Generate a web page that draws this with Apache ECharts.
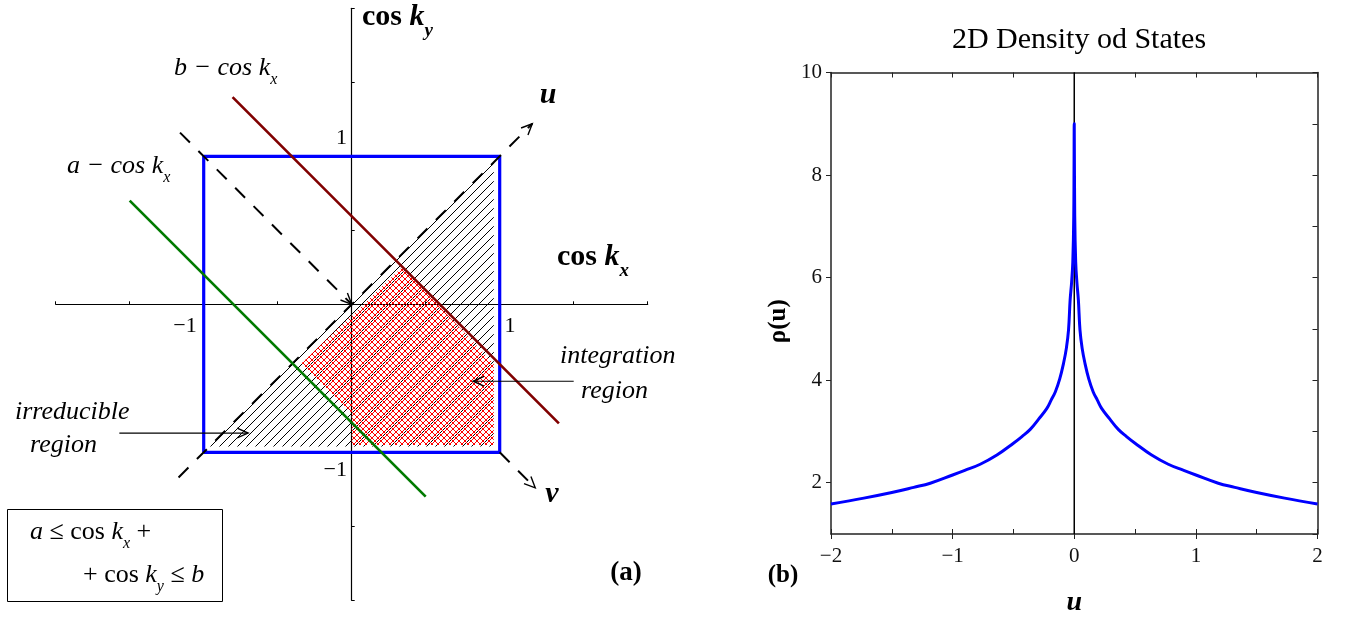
<!DOCTYPE html>
<html>
<head>
<meta charset="utf-8">
<title>2D Density of States</title>
<script src="https://cdn.jsdelivr.net/npm/echarts@6/dist/echarts.min.js"></script>
<style>
  html, body { margin: 0; padding: 0; background: #fff; }
  #main { width: 1352px; height: 617px; }
</style>
</head>
<body>
<div id="main"></div>
<script>
// panel (a): the (cos kx, cos ky) plane
var squarePts = [[-1, -1], [1, -1], [1, 1], [-1, 1], [-1, -1]];
var lineB = [[-0.805, 1.40], [1.40, -0.805]];   // b - cos kx
var lineA = [[-1.50, 0.70], [0.50, -1.30]];     // a - cos kx
var uAxisSeg = [[-1.17, -1.17, 1.22, 1.22]];
var vAxisSegs = [[-1.16, 1.16, 0, 0], [1, -1, 1.24, -1.24]];
var pointerSegs = [[1.50, -0.52, 0.82, -0.52], [-1.57, -0.87, -0.70, -0.87]];
var irreducible = [[-0.96, -0.96], [0.96, -0.96], [0.96, 0.96]];
var integration = [[-0.34, -0.40], [0.34, 0.25], [0.96, -0.40], [0.96, -0.95], [0, -0.95], [0, -0.735]];

// panel (b): density of states
var uVals = [-2.0, -1.73, -1.5, -1.32, -1.184, -1.0, -0.9, -0.773, -0.636, -0.5, -0.43, -0.362, -0.293,
  -0.225, -0.19, -0.156, -0.12, -0.088, -0.065, -0.047, -0.034, -0.022, -0.012, -0.004, 0,
  0.004, 0.012, 0.022, 0.034, 0.047, 0.065, 0.088, 0.12, 0.156, 0.19, 0.225, 0.293, 0.362, 0.43,
  0.5, 0.636, 0.773, 0.9, 1.0, 1.184, 1.32, 1.5, 1.73, 2.0];
var rhoVals = [1.585, 1.70, 1.81, 1.91, 1.99, 2.15, 2.24, 2.36, 2.54, 2.77, 2.90, 3.04, 3.24,
  3.45, 3.61, 3.77, 4.02, 4.33, 4.62, 4.98, 5.56, 5.9, 6.3, 7.2, 9.0,
  7.2, 6.3, 5.9, 5.56, 4.98, 4.62, 4.33, 4.02, 3.77, 3.61, 3.45, 3.24, 3.04, 2.90,
  2.77, 2.54, 2.36, 2.24, 2.15, 1.99, 1.91, 1.81, 1.70, 1.585];
var rhoTicks = [2, 4, 6, 8, 10];

var SERIF = "'Liberation Serif', 'Times New Roman', serif";

// crisp 1px diagonal hatch tiles
function hatchTile(size, color, both) {
  var c = document.createElement('canvas');
  c.width = size; c.height = size;
  var g = c.getContext('2d');
  g.fillStyle = color;
  for (var i = 0; i < size; i++) {
    g.fillRect(i, size - 1 - i, 1, 1);      // "/"
    if (both) g.fillRect(i, i, 1, 1);       // "\"
  }
  return c;
}
var blackHatch = { image: hatchTile(9, '#000', false), repeat: 'repeat' };
var redHatch = { image: hatchTile(6, '#ff0000', true), repeat: 'repeat' };

function polyRender(pts, fill) {
  return function (params, api) {
    return {
      type: 'polygon',
      shape: { points: pts.map(function (p) { return api.coord(p); }) },
      style: { fill: fill, stroke: null }
    };
  };
}

function arrowRender(dashed, width) {
  return function (params, api) {
    var p1 = api.coord([api.value(0), api.value(1)]);
    var p2 = api.coord([api.value(2), api.value(3)]);
    var ang = Math.atan2(p2[1] - p1[1], p2[0] - p1[0]);
    var L = 12, w = 0.42;
    var h1 = [p2[0] + L * Math.cos(ang + Math.PI - w), p2[1] + L * Math.sin(ang + Math.PI - w)];
    var h2 = [p2[0] + L * Math.cos(ang + Math.PI + w), p2[1] + L * Math.sin(ang + Math.PI + w)];
    return {
      type: 'group',
      children: [
        { type: 'line', shape: { x1: p1[0], y1: p1[1], x2: p2[0], y2: p2[1] },
          style: { stroke: '#000', lineWidth: width, lineDash: dashed ? [14, 12] : null } },
        { type: 'polyline', shape: { points: [h1, p2, h2] },
          style: { stroke: '#000', lineWidth: 1.4, fill: null } }
      ]
    };
  };
}

function st(size, italic, bold, drop) {
  var s = { fontFamily: SERIF, fontSize: size, fontStyle: italic ? 'italic' : 'normal',
    fontWeight: bold ? 'bold' : 'normal', fill: '#000', verticalAlign: 'middle' };
  if (drop) s.padding = [drop * 2, 0, 0, 0];
  return s;
}
function label(x, y, text, rich, align) {
  return { type: 'text', x: x, y: y, z: 50,
    style: { text: text, rich: rich, align: align || 'left', verticalAlign: 'middle' } };
}

var richItalic = { i: st(26, true, false), s: st(16, true, false, 12) };
var richBold = { b: st(30, false, true), bi: st(30, true, true), s: st(19, true, true, 14) };
var richBox = { r: st(26, false, false), i: st(26, true, false), s: st(16, true, false, 12) };
var richNum = { n: st(22, false, false) };

var chart = echarts.init(document.getElementById('main'));

var option = {
  animation: false,
  backgroundColor: '#fff',
  title: {
    text: '2D Density od States',
    left: 1074, top: 20, textAlign: 'center',
    textStyle: { fontFamily: SERIF, fontSize: 30, fontWeight: 'normal', color: '#000' }
  },
  grid: [
    { left: 55.7, top: 8.3, width: 592, height: 592, outerBoundsMode: 'none', containLabel: false },
    { left: 831, top: 72.5, width: 486.5, height: 461.5, outerBoundsMode: 'none', containLabel: false }
  ],
  xAxis: [
    { gridIndex: 0, type: 'value', min: -2, max: 2, interval: 0.5,
      axisLine: { onZero: true, lineStyle: { color: '#000', width: 1.2 } },
      axisTick: { show: true, inside: true, length: 3, lineStyle: { color: '#000' } },
      splitLine: { show: false }, axisLabel: { show: false } },
    { gridIndex: 1, type: 'value', min: -2, max: 2, interval: 1, position: 'bottom',
      axisLine: { onZero: false, lineStyle: { color: '#222', width: 1.5 } },
      axisTick: { show: true, inside: false, length: 5, lineStyle: { color: '#222' } },
      splitLine: { show: false },
      axisLabel: { margin: 12, fontFamily: SERIF, fontSize: 21, color: '#111',
        formatter: function (v) { return v < 0 ? '\u2212' + Math.abs(v) : String(v); } },
      name: 'u', nameLocation: 'middle', nameGap: 55,
      nameTextStyle: { fontFamily: SERIF, fontSize: 28, fontStyle: 'italic', fontWeight: 'bold', color: '#000' } },
    { gridIndex: 1, type: 'value', min: -2, max: 2, interval: 0.5, position: 'bottom',
      axisLine: { show: false, onZero: false },
      axisTick: { show: true, inside: true, length: 5, lineStyle: { color: '#222' } },
      axisLabel: { show: false }, splitLine: { show: false } },
    { gridIndex: 1, type: 'value', min: -2, max: 2, interval: 0.5, position: 'top',
      axisLine: { onZero: false, lineStyle: { color: '#222', width: 1.5 } },
      axisTick: { show: true, inside: true, length: 5, lineStyle: { color: '#222' } },
      axisLabel: { show: false }, splitLine: { show: false } }
  ],
  yAxis: [
    { gridIndex: 0, type: 'value', min: -2, max: 2, interval: 0.5,
      axisLine: { onZero: true, lineStyle: { color: '#000', width: 1.2 } },
      axisTick: { show: true, inside: true, length: 3, lineStyle: { color: '#000' } },
      splitLine: { show: false }, axisLabel: { show: false } },
    { gridIndex: 1, type: 'value', min: 1, max: 10, position: 'left',
      axisLine: { onZero: false, lineStyle: { color: '#222', width: 1.5 } },
      axisTick: { show: true, inside: false, length: 5, customValues: rhoTicks, lineStyle: { color: '#222' } },
      axisLabel: { customValues: rhoTicks, margin: 9, fontFamily: SERIF, fontSize: 21, color: '#111' },
      splitLine: { show: false },
      name: '\u03c1(u)', nameLocation: 'middle', nameGap: 40,
      nameTextStyle: { fontFamily: SERIF, fontSize: 25, fontWeight: 'bold', color: '#000', padding: [0, 36, 0, 0] } },
    { gridIndex: 1, type: 'value', min: 1, max: 10, interval: 1, position: 'right',
      axisLine: { onZero: false, lineStyle: { color: '#222', width: 1.5 } },
      axisTick: { show: true, inside: true, length: 5, lineStyle: { color: '#222' } },
      axisLabel: { show: false }, splitLine: { show: false } }
  ],
  series: [
    { type: 'custom', xAxisIndex: 0, yAxisIndex: 0, data: [[0, 0]], silent: true, z: 1,
      renderItem: polyRender(irreducible, blackHatch) },
    { type: 'custom', xAxisIndex: 0, yAxisIndex: 0, data: [[0, 0]], silent: true, z: 2,
      renderItem: polyRender(integration, redHatch) },
    { type: 'line', xAxisIndex: 0, yAxisIndex: 0, data: squarePts, showSymbol: false, silent: true, z: 3,
      lineStyle: { color: '#0000ff', width: 3.2 } },
    { type: 'custom', xAxisIndex: 0, yAxisIndex: 0, data: uAxisSeg, silent: true, z: 4,
      encode: { x: [0, 2], y: [1, 3] }, renderItem: arrowRender(true, 2) },
    { type: 'custom', xAxisIndex: 0, yAxisIndex: 0, data: vAxisSegs, silent: true, z: 4,
      encode: { x: [0, 2], y: [1, 3] }, renderItem: arrowRender(true, 2) },
    { type: 'line', xAxisIndex: 0, yAxisIndex: 0, data: lineB, showSymbol: false, silent: true, z: 5,
      lineStyle: { color: '#800000', width: 2.6 } },
    { type: 'line', xAxisIndex: 0, yAxisIndex: 0, data: lineA, showSymbol: false, silent: true, z: 5,
      lineStyle: { color: '#007a00', width: 2.6 } },
    { type: 'custom', xAxisIndex: 0, yAxisIndex: 0, data: pointerSegs, silent: true, z: 6,
      encode: { x: [0, 2], y: [1, 3] }, renderItem: arrowRender(false, 1.2) },
    // panel (b)
    { type: 'line', xAxisIndex: 1, yAxisIndex: 1, data: [[0, 1], [0, 10]], showSymbol: false, silent: true, z: 2,
      lineStyle: { color: '#000', width: 1.5 } },
    { type: 'line', xAxisIndex: 1, yAxisIndex: 1, showSymbol: false, silent: true, z: 3,
      smooth: 0.4,
      data: uVals.map(function (u, i) { return [u, rhoVals[i]]; }),
      lineStyle: { color: '#0000ff', width: 3, join: 'round' } }
  ],
  graphic: [
    // tick numbers of the plane
    label(347, 138, '{n|1}', richNum, 'right'),
    label(347, 470, '{n|\u22121}', richNum, 'right'),
    label(185, 326, '{n|\u22121}', richNum, 'center'),
    label(510, 326, '{n|1}', richNum, 'center'),
    label(362, 17, '{b|cos }{bi|k}{s|y}', richBold),
    label(174, 68, '{i|b \u2212 cos k}{s|x}', richItalic),
    label(67, 166, '{i|a \u2212 cos k}{s|x}', richItalic),
    label(548, 95, '{bi|u}', richBold, 'center'),
    label(557, 257, '{b|cos }{bi|k}{s|x}', richBold),
    label(552, 494, '{bi|v}', richBold, 'center'),
    label(560, 356, '{i|integration}', richItalic),
    label(581, 391, '{i|region}', richItalic),
    label(15, 412, '{i|irreducible}', richItalic),
    label(30, 445, '{i|region}', richItalic),
    label(626, 573, '{b|(a)}', { b: st(27, false, true) }, 'center'),
    label(783, 576, '{b|(b)}', { b: st(25, false, true) }, 'center'),
    { type: 'rect', z: 50, shape: { x: 7.5, y: 509.5, width: 215, height: 92 },
      style: { fill: 'none', stroke: '#000', lineWidth: 1 } },
    label(30, 532, '{i|a}{r| \u2264 cos }{i|k}{s|x}{r| +}', richBox),
    label(83, 575, '{r|+ cos }{i|k}{s|y}{r| \u2264 }{i|b}', richBox)
  ]
};

chart.setOption(option);
</script>
</body>
</html>
